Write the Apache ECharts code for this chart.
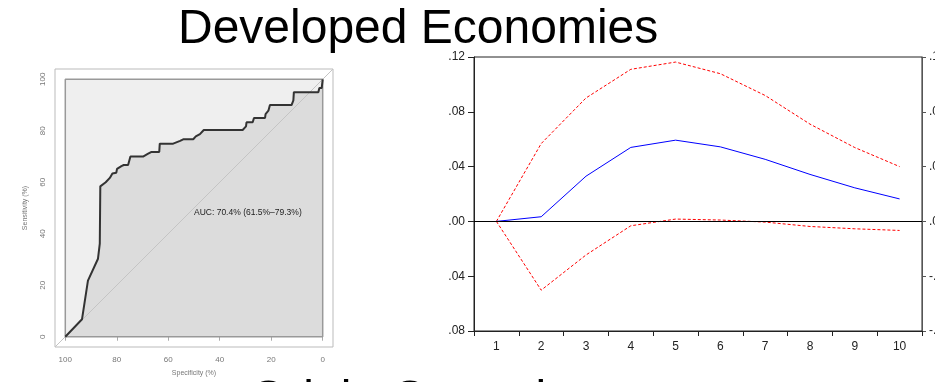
<!DOCTYPE html>
<html>
<head>
<meta charset="utf-8">
<script src="https://cdn.jsdelivr.net/npm/echarts@6/dist/echarts.min.js"></script>
<style>
  html, body { margin: 0; padding: 0; background: #fff; }
  #wrap { width: 935px; height: 382px; overflow: hidden; }
  #chart { width: 960px; height: 382px; }
</style>
</head>
<body>
<div id="wrap"><div id="chart"></div></div>
<script>
// ROC curve (left panel)
const rocSpecificity = [100, 93.5, 91.2, 87.3, 86.6, 86.4, 84.3, 82.7, 81.7, 80.2, 79.9, 78.2, 77.3, 75.6, 74.7, 69.8, 67.8, 66.5, 63.5, 63.3, 58.1, 55.4, 54.2, 50.3, 49.3, 47.7, 46.2, 31.1, 29.8, 29.6, 27.2, 26.7, 22.4, 22.2, 21.1, 20.5, 12.1, 11.4, 11.2, 1.7, 1.3, 0.4, 0];
const rocSensitivity = [0, 6.8, 21.8, 30.3, 36.2, 58.4, 60, 61.7, 63.4, 63.7, 65.2, 66.3, 66.7, 66.7, 70, 70, 71.1, 71.8, 71.8, 75, 75, 76.1, 76.7, 76.7, 77.8, 78.7, 80.3, 80.3, 81.7, 83.3, 83.3, 85, 85, 86.5, 87.8, 90, 90, 91.8, 95, 95, 96.6, 96.6, 100];
const rocTicks = [0, 20, 40, 60, 80, 100];
const aucText = 'AUC: 70.4% (61.5%\u201379.3%)';
const aucPos = [50, 50];

// impulse response (right panel)
const periods = ['1', '2', '3', '4', '5', '6', '7', '8', '9', '10'];
const response = [0, 0.0034, 0.033, 0.054, 0.0593, 0.0544, 0.0453, 0.0343, 0.0245, 0.0164];
const upperBand = [0, 0.0568, 0.0901, 0.111, 0.1163, 0.1078, 0.0919, 0.071, 0.0539, 0.040];
const lowerBand = [0, -0.0502, -0.0245, -0.0032, 0.0017, 0.001, -0.0005, -0.0037, -0.0054, -0.0066];

const FONT = "'Liberation Sans', Arial, sans-serif";
const pairs = (xs, ys) => xs.map((x, i) => [x, ys[i]]);
const fmtIrf = v => (v < 0 ? '-' : '') + Math.abs(v).toFixed(2).replace(/^0/, '');

const chart = echarts.init(document.getElementById('chart'));

const rocAxisCommon = {
    type: 'value',
    min: -4,
    max: 104,
    axisLine: { show: false },
    splitLine: { show: false },
    axisTick: { show: true, customValues: rocTicks, length: 4, lineStyle: { color: '#aaa' } },
    axisLabel: { customValues: rocTicks, fontSize: 8, color: '#777', fontFamily: FONT },
    nameLocation: 'middle',
    nameTextStyle: { fontSize: 7, color: '#777', fontFamily: FONT },
};

const option = {
    animation: false,
    backgroundColor: '#fff',
    title: [
        {
            text: 'Developed Economies',
            left: 178, top: 6, padding: 0,
            textStyle: { fontSize: 48, fontWeight: 'normal', color: '#000', fontFamily: FONT },
        },
        {
            text: 'Origin Countries',
            left: 250, top: 377, padding: 0,
            textStyle: { fontSize: 48, fontWeight: 'normal', color: '#000', fontFamily: FONT },
        },
    ],
    grid: [
        { left: 55, top: 69, width: 278, height: 278, show: true, borderColor: '#bbb', borderWidth: 1, containLabel: false },
        { left: 474, top: 57, width: 448, height: 274, show: true, borderColor: '#222', borderWidth: 1, containLabel: false },
    ],
    xAxis: [
        Object.assign({}, rocAxisCommon, {
            gridIndex: 0,
            inverse: true,
            name: 'Specificity (%)',
            nameGap: 23,
            axisLabel: Object.assign({}, rocAxisCommon.axisLabel, { margin: 9 }),
        }),
        {
            type: 'category',
            gridIndex: 1,
            data: periods,
            boundaryGap: true,
            axisLine: { onZero: false, lineStyle: { color: '#222', width: 1 } },
            axisTick: { show: true, length: 5, lineStyle: { color: '#222' } },
            axisLabel: { fontSize: 12, color: '#222', margin: 10, fontFamily: FONT },
            splitLine: { show: false },
        },
    ],
    yAxis: [
        Object.assign({}, rocAxisCommon, {
            gridIndex: 0,
            name: 'Sensitivity (%)',
            nameGap: 26,
            axisLabel: Object.assign({}, rocAxisCommon.axisLabel, { rotate: 90, margin: 8 }),
        }),
        {
            type: 'value',
            gridIndex: 1,
            min: -0.08,
            max: 0.12,
            interval: 0.04,
            axisLine: { show: true, lineStyle: { color: '#222', width: 1 } },
            axisTick: { show: true, length: 6, lineStyle: { color: '#222' } },
            axisLabel: { fontSize: 12, color: '#222', margin: 9, fontFamily: FONT, formatter: v => Math.abs(v).toFixed(2).replace(/^0/, '') },
            splitLine: { show: false },
        },
        {
            type: 'value',
            gridIndex: 1,
            position: 'right',
            min: -0.08,
            max: 0.12,
            interval: 0.04,
            axisLine: { show: true, lineStyle: { color: '#555', width: 1 } },
            axisTick: { show: true, length: 4, lineStyle: { color: '#555' } },
            axisLabel: { fontSize: 12, color: '#222', margin: 7, fontFamily: FONT, formatter: fmtIrf },
            splitLine: { show: false },
        },
    ],
    series: [
        // full square (max AUC) background
        {
            type: 'line', xAxisIndex: 0, yAxisIndex: 0,
            data: [[100, 100], [0, 100]],
            symbol: 'none',
            lineStyle: { width: 0 },
            areaStyle: { color: '#efefef', opacity: 1 },
            silent: true,
        },
        // area under curve
        {
            type: 'line', xAxisIndex: 0, yAxisIndex: 0,
            data: pairs(rocSpecificity, rocSensitivity),
            symbol: 'none',
            lineStyle: { width: 0 },
            areaStyle: { color: '#dcdcdc', opacity: 1 },
            silent: true,
        },
        // identity line
        {
            type: 'line', xAxisIndex: 0, yAxisIndex: 0,
            data: [[104, -4], [-4, 104]],
            symbol: 'none',
            lineStyle: { color: '#c4c4c4', width: 1 },
            silent: true,
        },
        // square border
        {
            type: 'line', xAxisIndex: 0, yAxisIndex: 0,
            data: [[100, 0], [0, 0], [0, 100], [100, 100], [100, 0]],
            symbol: 'none',
            lineStyle: { color: '#999', width: 1.5 },
            silent: true,
        },
        // ROC curve
        {
            type: 'line', xAxisIndex: 0, yAxisIndex: 0,
            data: pairs(rocSpecificity, rocSensitivity),
            symbol: 'none',
            lineStyle: { color: '#333', width: 2 },
            silent: true,
        },
        // IRF bands and response
        {
            type: 'line', xAxisIndex: 1, yAxisIndex: 1,
            data: upperBand,
            symbol: 'none',
            lineStyle: { color: '#ff0000', width: 1, type: [3, 2] },
        },
        {
            type: 'line', xAxisIndex: 1, yAxisIndex: 1,
            data: lowerBand,
            symbol: 'none',
            lineStyle: { color: '#ff0000', width: 1, type: [3, 2] },
        },
        {
            type: 'line', xAxisIndex: 1, yAxisIndex: 1,
            data: response,
            symbol: 'none',
            lineStyle: { color: '#0000ff', width: 1 },
            markLine: {
                silent: true,
                symbol: 'none',
                label: { show: false },
                lineStyle: { color: '#000', width: 1, type: 'solid' },
                data: [{ yAxis: 0 }],
            },
        },
    ],
};

chart.setOption(option);

// AUC annotation, placed through the ROC axes
const aucPx = chart.convertToPixel({ gridIndex: 0 }, aucPos);
chart.setOption({
    graphic: [{
        type: 'text',
        x: aucPx[0],
        y: aucPx[1],
        z: 100,
        silent: true,
        style: {
            text: aucText,
            fontSize: 8.5,
            fontFamily: FONT,
            fill: '#222',
            align: 'left',
            verticalAlign: 'top',
        },
    }],
});
</script>
</body>
</html>
